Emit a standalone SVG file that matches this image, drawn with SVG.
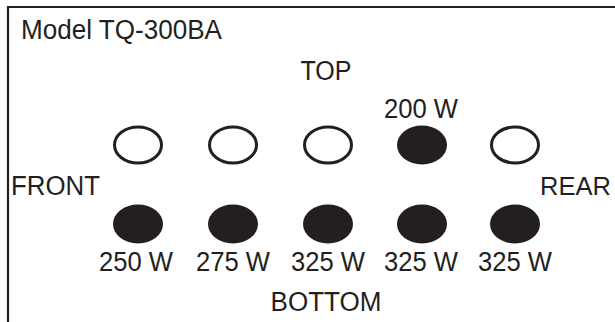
<svg xmlns="http://www.w3.org/2000/svg" width="615" height="322" viewBox="0 0 615 322">
<style>
text{font-family:"Liberation Sans",Arial,sans-serif;font-size:27px;fill:#231f20}
.c{text-anchor:middle}
.open{fill:#fff;stroke:#231f20;stroke-width:3}
.fill{fill:#231f20}
.frame{stroke:#231f20;stroke-width:2.2;fill:none}
</style>
<rect width="615" height="322" fill="#fff"/>
<g id="frame"><path class="frame" d="M8 322 V7 H615"/></g>
<g id="labels">
<text x="21" y="39" textLength="201" lengthAdjust="spacingAndGlyphs">Model TQ-300BA</text>
<text class="c" x="326" y="80" textLength="51" lengthAdjust="spacingAndGlyphs">TOP</text>
<text x="11" y="195" textLength="89" lengthAdjust="spacingAndGlyphs">FRONT</text>
<text x="540" y="195" style="font-size:25.5px">REAR</text>
<text class="c" x="326" y="311" textLength="111" lengthAdjust="spacingAndGlyphs">BOTTOM</text>
</g>
<g id="top-row">
<g id="t1"><ellipse class="open" cx="138" cy="145" rx="23.5" ry="18"/></g>
<g id="t2"><ellipse class="open" cx="233" cy="145" rx="23.5" ry="18"/></g>
<g id="t3"><ellipse class="open" cx="328" cy="145" rx="23.5" ry="18"/></g>
<g id="t4"><ellipse class="fill" cx="422" cy="145" rx="25" ry="19.5"/><text class="c" x="421" y="118" textLength="74" lengthAdjust="spacingAndGlyphs">200 W</text></g>
<g id="t5"><ellipse class="open" cx="515" cy="145" rx="23.5" ry="18"/></g>
</g>
<g id="bottom-row">
<g id="b1"><ellipse class="fill" cx="138" cy="224" rx="25" ry="19.5"/><text class="c" x="136" y="271" textLength="74" lengthAdjust="spacingAndGlyphs">250 W</text></g>
<g id="b2"><ellipse class="fill" cx="233" cy="224" rx="25" ry="19.5"/><text class="c" x="233" y="271" textLength="74" lengthAdjust="spacingAndGlyphs">275 W</text></g>
<g id="b3"><ellipse class="fill" cx="328" cy="224" rx="25" ry="19.5"/><text class="c" x="328" y="271" textLength="74" lengthAdjust="spacingAndGlyphs">325 W</text></g>
<g id="b4"><ellipse class="fill" cx="422" cy="224" rx="25" ry="19.5"/><text class="c" x="421" y="271" textLength="74" lengthAdjust="spacingAndGlyphs">325 W</text></g>
<g id="b5"><ellipse class="fill" cx="515" cy="224" rx="25" ry="19.5"/><text class="c" x="515" y="271" textLength="74" lengthAdjust="spacingAndGlyphs">325 W</text></g>
</g>
</svg>
